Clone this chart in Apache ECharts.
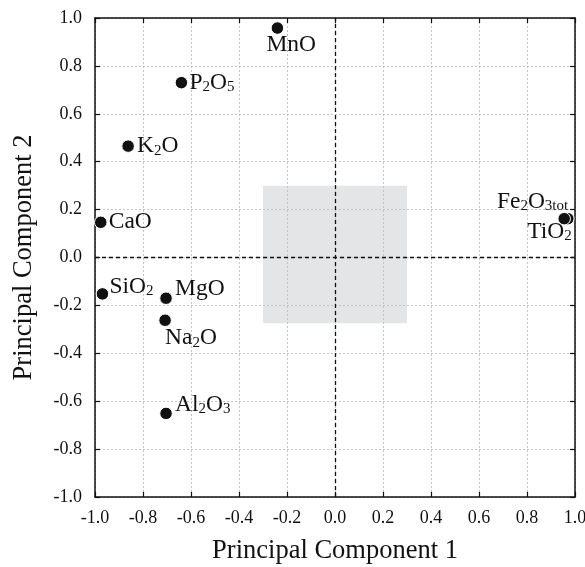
<!DOCTYPE html>
<html>
<head>
<meta charset="utf-8">
<script src="https://cdn.jsdelivr.net/npm/echarts@6/dist/echarts.min.js"></script>
<style>
  html, body { margin: 0; padding: 0; background: #fff; }
  #chart { width: 585px; height: 567px; }
</style>
</head>
<body>
<div id="chart"></div>
<script>
// Oxide loadings on the first two principal components
const names = ['MnO', 'P2O5', 'K2O', 'CaO', 'SiO2', 'MgO', 'Na2O', 'Al2O3', 'TiO2', 'Fe2O3tot'];
const pc1 = [-0.24, -0.64, -0.862, -0.976, -0.969, -0.704, -0.708, -0.704, 0.97, 0.955];
const pc2 = [0.958, 0.73, 0.465, 0.147, -0.152, -0.17, -0.262, -0.651, 0.162, 0.162];

// Shaded region around the origin
const boxX = [-0.3, 0.3];
const boxY = [-0.275, 0.3];

// Axis ticks
const axisMin = -1.0;
const axisMax = 1.0;
const axisStep = 0.2;

const FONT = "'Liberation Serif', 'Times New Roman', serif";
const INK = '#111';

// Chemical formula text with subscripted digits / "tot"
function formula(n) {
  return n.replace(/(\d+tot|\d+)/g, '{s|$1}');
}

// Label placement relative to each marker centre: [dx, dy, align]
const labelPlace = {
  'MnO': [-11, 17, 'left'],
  'P2O5': [8, 0, 'left'],
  'K2O': [9, 0, 'left'],
  'CaO': [8, 0, 'left'],
  'SiO2': [7, -7, 'left'],
  'MgO': [9, -9, 'left'],
  'Na2O': [0, 18, 'left'],
  'Al2O3': [9, -9, 'left'],
  'TiO2': [4, 13, 'right'],
  'Fe2O3tot': [4, -17, 'right']
};

const points = names.map((n, i) => {
  const p = labelPlace[n];
  return {
    name: n,
    value: [pc1[i], pc2[i]],
    label: {
      show: true,
      position: 'inside',
      align: p[2],
      verticalAlign: 'middle',
      offset: [p[0], p[1]],
      formatter: formula(n)
    }
  };
});

const chart = echarts.init(document.getElementById('chart'), null, { renderer: 'canvas' });

const tickLabel = {
  fontFamily: FONT,
  fontSize: 18,
  color: INK,
  formatter: v => v.toFixed(1)
};

const grid = { left: 95, right: 10, top: 18, bottom: 70, containLabel: false, outerBoundsMode: 'none' };

chart.setOption({
  animation: false,
  backgroundColor: '#fff',
  grid: grid,
  xAxis: [
    {
      type: 'value', position: 'bottom',
      min: axisMin, max: axisMax, interval: axisStep,
      name: 'Principal Component 1',
      nameLocation: 'middle', nameGap: 41,
      nameTextStyle: { fontFamily: FONT, fontSize: 26.5, color: INK },
      axisLine: { show: true, onZero: false, lineStyle: { color: INK, width: 1.5 } },
      axisTick: { show: true, inside: true, length: 5, lineStyle: { color: INK, width: 1.2 } },
      axisLabel: Object.assign({ margin: 12 }, tickLabel),
      splitLine: { show: true, lineStyle: { color: '#c4c4c4', type: [2, 2], width: 1 } }
    },
    {
      type: 'value', position: 'top',
      min: axisMin, max: axisMax, interval: axisStep,
      axisLine: { show: true, onZero: false, lineStyle: { color: INK, width: 1.5 } },
      axisTick: { show: true, inside: true, length: 5, lineStyle: { color: INK, width: 1.2 } },
      axisLabel: { show: false },
      splitLine: { show: false }
    }
  ],
  yAxis: [
    {
      type: 'value', position: 'left',
      min: axisMin, max: axisMax, interval: axisStep,
      name: 'Principal Component 2',
      nameLocation: 'middle', nameGap: 57,
      nameTextStyle: { fontFamily: FONT, fontSize: 26.5, color: INK },
      axisLine: { show: true, onZero: false, lineStyle: { color: INK, width: 1.5 } },
      axisTick: { show: true, inside: true, length: 5, lineStyle: { color: INK, width: 1.2 } },
      axisLabel: Object.assign({ margin: 13 }, tickLabel),
      splitLine: { show: true, lineStyle: { color: '#c4c4c4', type: [2, 2], width: 1 } }
    },
    {
      type: 'value', position: 'right',
      min: axisMin, max: axisMax, interval: axisStep,
      axisLine: { show: true, onZero: false, lineStyle: { color: INK, width: 1.5 } },
      axisTick: { show: true, inside: true, length: 5, lineStyle: { color: INK, width: 1.2 } },
      axisLabel: { show: false },
      splitLine: { show: false }
    }
  ],
  series: [
    {
      // grey square behind the grid lines
      type: 'custom',
      xAxisIndex: 0, yAxisIndex: 0,
      z: -1,
      silent: true,
      data: [[boxX[0], boxY[1], boxX[1], boxY[0]]],
      renderItem: function (params, api) {
        const p0 = api.coord([api.value(0), api.value(1)]);
        const p1 = api.coord([api.value(2), api.value(3)]);
        return {
          type: 'rect',
          shape: { x: p0[0], y: p0[1], width: p1[0] - p0[0], height: p1[1] - p0[1] },
          style: { fill: '#e4e5e7' }
        };
      }
    },
    {
      type: 'scatter',
      xAxisIndex: 0, yAxisIndex: 0,
      symbol: 'circle',
      symbolSize: 12.5,
      itemStyle: { color: '#111', opacity: 1, borderColor: '#fff', borderWidth: 1 },
      label: {
        fontFamily: FONT,
        fontSize: 23.5,
        color: INK,
        rich: {
          s: { fontFamily: FONT, fontSize: 15, color: INK, verticalAlign: 'bottom', padding: [7, 0, 0, 0] }
        }
      },
      data: points,
      markLine: {
        silent: true,
        symbol: 'none',
        label: { show: false },
        lineStyle: { color: INK, type: [4, 3], width: 1.3 },
        data: [{ xAxis: 0 }, { yAxis: 0 }]
      }
    }
  ]
});
</script>
</body>
</html>
